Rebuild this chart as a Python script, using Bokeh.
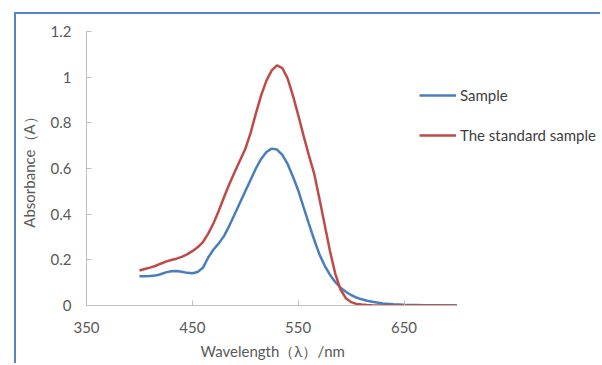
from bokeh.plotting import figure
from bokeh.models import Range1d, FixedTicker, Legend, LegendItem, Title
from bokeh.embed import file_html
from bokeh.resources import INLINE

wavelength = [400, 405, 410, 415, 420, 425, 430, 435, 440, 445, 450, 455, 460, 465, 470,
              475, 480, 485, 490, 495, 500, 505, 510, 515, 520, 525, 530, 535, 540, 545,
              550, 555, 560, 565, 570, 575, 580, 585, 590, 595, 600, 605, 610, 615, 620,
              630, 640, 650, 660, 670, 680, 690, 700]

sample = [0.128, 0.128, 0.129, 0.131, 0.137, 0.145, 0.150, 0.151, 0.148, 0.143, 0.141,
          0.147, 0.165, 0.210, 0.245, 0.272, 0.305, 0.350, 0.400, 0.450, 0.500, 0.550,
          0.600, 0.642, 0.672, 0.687, 0.683, 0.660, 0.620, 0.565, 0.505, 0.432, 0.360,
          0.290, 0.225, 0.175, 0.135, 0.103, 0.078, 0.060, 0.046, 0.035, 0.027, 0.021,
          0.016, 0.009, 0.005, 0.003, 0.002, 0.001, 0.001, 0.000, 0.000]

standard = [0.153, 0.160, 0.166, 0.173, 0.183, 0.192, 0.199, 0.205, 0.213, 0.224, 0.238,
            0.255, 0.278, 0.315, 0.360, 0.415, 0.475, 0.532, 0.585, 0.635, 0.685, 0.755,
            0.840, 0.920, 0.985, 1.030, 1.052, 1.040, 0.995, 0.920, 0.835, 0.745, 0.660,
            0.580, 0.470, 0.355, 0.240, 0.140, 0.070, 0.032, 0.015, 0.007, 0.004, 0.002,
            0.001, 0.000, 0.000, 0.000, 0.000, 0.000, 0.000, 0.000, 0.000]

series_names = ["Sample", "The standard sample"]
x_ticks = [350, 450, 550, 650]
y_ticks = [0, 0.2, 0.4, 0.6, 0.8, 1.0, 1.2]
y_tick_labels = ["0", "0.2", "0.4", "0.6", "0.8", "1", "1.2"]
x_title = "Wavelength（λ）/nm"
y_title = "Absorbance（A）"

FONT = "Lato"
GRAY_TXT = "#595959"
AXIS_COL = "#bfbfbf"

# outer chart-area frame: 14px left / 12px top offset, 2px blue border
OFF_L, OFF_T, BW = 14, 12, 2
W = 602 - OFF_L - BW
H = 365 - OFF_T - BW
x_start, x_end_axis = 350, 700
px_per_nm = (455.0 - 81.7) / (x_end_axis - x_start)
frame_left = 82 - OFF_L - BW
x_end = x_start + (W - frame_left) / px_per_nm

p = figure(width=W, height=H, output_backend="svg", toolbar_location=None,
           x_range=Range1d(x_start, x_end), y_range=Range1d(0, 1.2),
           min_border_left=frame_left, min_border_right=0,
           min_border_top=31 - OFF_T - BW, min_border_bottom=365 - 305)
p.margin = (OFF_T, 0, 0, OFF_L)
p.styles = {"border-left": f"{BW}px solid #5585c5", "border-top": f"{BW}px solid #5585c5"}
p.outline_line_color = None
p.grid.visible = False
p.background_fill_color = "white"
p.border_fill_color = "white"

for ax in (p.xaxis[0], p.yaxis[0]):
    ax.axis_line_color = AXIS_COL
    ax.major_tick_line_color = AXIS_COL
    ax.major_tick_in = 5
    ax.major_tick_out = 0
    ax.minor_tick_line_color = None
    ax.major_label_text_font = FONT
    ax.major_label_text_font_size = "15px"
    ax.major_label_text_color = GRAY_TXT
    ax.axis_label_text_font = FONT
    ax.axis_label_text_font_size = "15px"
    ax.axis_label_text_font_style = "normal"
    ax.axis_label_text_color = GRAY_TXT

p.xaxis.bounds = (x_start, x_end_axis)
p.xaxis.ticker = FixedTicker(ticks=x_ticks)
p.yaxis.ticker = FixedTicker(ticks=y_ticks)
p.yaxis.major_label_overrides = {t: l for t, l in zip(y_ticks, y_tick_labels)}
p.xaxis.major_label_standoff = 16
p.yaxis.major_label_standoff = 15
p.yaxis.axis_label = y_title
p.yaxis.axis_label_standoff = 10

# x-axis title centred under the 350-700 axis span (the frame extends further right for the legend)
xt = Title(text=x_title, align="right", offset=602 - 344, standoff=8,
           text_font=FONT, text_font_size="15px", text_font_style="normal",
           text_color=GRAY_TXT)
p.add_layout(xt, "below")

r1 = p.line(wavelength, sample, line_color="#4a7ebb", line_width=2.5)
r2 = p.line(wavelength, standard, line_color="#be4b48", line_width=2.5)

legend = Legend(items=[LegendItem(label=series_names[0], renderers=[r1]),
                       LegendItem(label=series_names[1], renderers=[r2])],
                location=(333, 160), orientation="vertical",
                glyph_width=37, glyph_height=20, spacing=20, label_standoff=4,
                padding=0, margin=0, border_line_color=None, background_fill_alpha=0,
                label_text_font=FONT, label_text_font_size="15px", label_text_color="#404040")
p.add_layout(legend, "center")

open("out.html", "w").write(file_html(p, INLINE))
